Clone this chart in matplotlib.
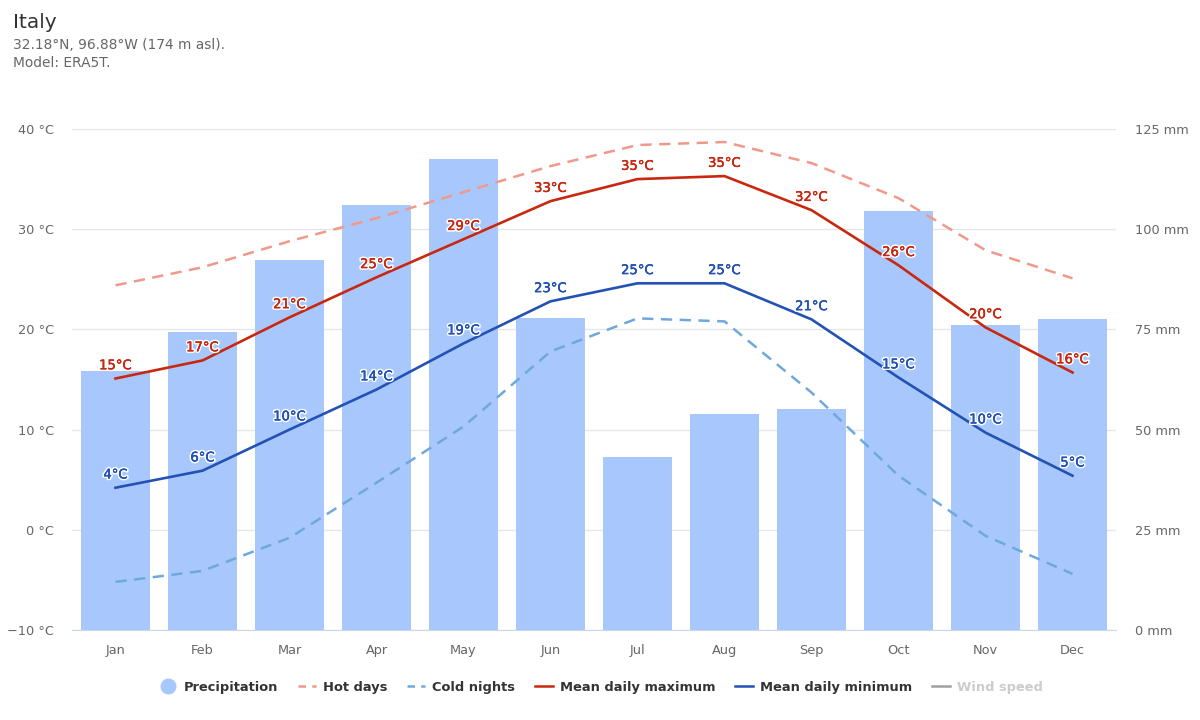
import matplotlib
matplotlib.use("Agg")
import matplotlib.pyplot as plt
from matplotlib.lines import Line2D
import matplotlib.patheffects as pe

months = ["Jan", "Feb", "Mar", "Apr", "May", "Jun", "Jul", "Aug", "Sep", "Oct", "Nov", "Dec"]
precip = [64.6, 74.4, 92.3, 106, 117.5, 77.8, 43.2, 53.9, 55.1, 104.5, 76.1, 77.6]
hot_days = [24.4, 26.2, 28.8, 31.1, 33.7, 36.3, 38.4, 38.7, 36.6, 33.1, 27.9, 25.1]
cold_nights = [-5.2, -4.1, -0.8, 4.7, 10.3, 17.8, 21.1, 20.8, 13.7, 5.4, -0.6, -4.4]
mean_max = [15.1, 16.9, 21.2, 25.2, 29.0, 32.8, 35.0, 35.3, 31.9, 26.4, 20.2, 15.7]
mean_min = [4.2, 5.9, 10.0, 14.0, 18.6, 22.8, 24.6, 24.6, 21.0, 15.2, 9.7, 5.4]
temp_ticks = [-10, 0, 10, 20, 30, 40]
rain_ticks = [0, 25, 50, 75, 100, 125]

BAR = "#a8c8fd"
RED = "#c8280f"
BLUE = "#2352b4"
PINK = "#f0998a"
LBLUE = "#6fa8dc"
TICK = "#666666"

plt.rcParams["font.family"] = "DejaVu Sans"
fig = plt.figure(figsize=(12, 7.2), dpi=100)
ax = fig.add_axes([72 / 1200, 1 - 630 / 720, 1044 / 1200, 501 / 720])
ax2 = ax.twinx()
x = list(range(12))

# bars + grid on the mm axis, lines on top of them
ax2.bar(x, precip, width=0.79, color=BAR, zorder=2)
ax2.set_ylim(0, 125)
ax2.set_yticks(rain_ticks)
ax2.set_yticklabels([f"{v} mm" for v in rain_ticks])
ax2.grid(axis="y", color="#e6e6e6", lw=1)
ax2.set_axisbelow(True)

ax.set_zorder(ax2.get_zorder() + 1)
ax.patch.set_visible(False)
ax.plot(x, hot_days, color=PINK, lw=1.8, dashes=(4.5, 3))
ax.plot(x, cold_nights, color=LBLUE, lw=1.8, dashes=(4.5, 3))
ax.plot(x, mean_max, color=RED, lw=1.9)
ax.plot(x, mean_min, color=BLUE, lw=1.9)
ax.set_xlim(-0.5, 11.5)
ax.set_ylim(-10, 40)
ax.set_yticks(temp_ticks)
ax.set_yticklabels([f"{v} °C".replace("-", "\u2212") for v in temp_ticks])
ax.set_xticks(x)
ax.set_xticklabels(months)

def halo(color):
    return [pe.withStroke(linewidth=2.5, foreground="white"), pe.Stroke(linewidth=0.25, foreground=color), pe.Normal()]

for i in x:
    ax.annotate(f"{round(mean_max[i])}°C", (i, mean_max[i]), xytext=(0, 4.5), textcoords="offset points",
                ha="center", va="bottom", color=RED, fontsize=9.5, path_effects=halo(RED))
    ax.annotate(f"{round(mean_min[i])}°C", (i, mean_min[i]), xytext=(0, 4.5), textcoords="offset points",
                ha="center", va="bottom", color=BLUE, fontsize=9.5, path_effects=halo(BLUE))

for a in (ax, ax2):
    for s in a.spines.values():
        s.set_visible(False)
    a.tick_params(length=0, labelsize=9.3, labelcolor=TICK)
ax.tick_params(axis="y", pad=13)
ax.tick_params(axis="x", pad=10)
ax2.tick_params(axis="y", pad=14)
ax.spines["bottom"].set_visible(True)
ax.spines["bottom"].set_color("#ccd6eb")

fig.text(13 / 1200, 1 - 22 / 720, "Italy", fontsize=14.5, color="#333333", va="center")
fig.text(13 / 1200, 1 - 45 / 720, "32.18°N, 96.88°W (174 m asl).", fontsize=9.9, color=TICK, va="center")
fig.text(13 / 1200, 1 - 63 / 720, "Model: ERA5T.", fontsize=9.9, color=TICK, va="center")

handles = [
    Line2D([], [], ls="none", marker="o", ms=10.5, color=BAR),
    Line2D([], [], color=PINK, lw=1.8, dashes=(3, 2.5)),
    Line2D([], [], color=LBLUE, lw=1.8, dashes=(3, 2.5)),
    Line2D([], [], color=RED, lw=1.8),
    Line2D([], [], color=BLUE, lw=1.8),
    Line2D([], [], color="#a0a0a0", lw=1.8),
]
labels = ["Precipitation", "Hot days", "Cold nights", "Mean daily maximum", "Mean daily minimum", "Wind speed"]
leg = fig.legend(handles, labels, loc="center", bbox_to_anchor=(601 / 1200, 1 - 687 / 720), ncol=6,
                 frameon=False, columnspacing=1.5, handlelength=1.4, handletextpad=0.53,
                 prop={"weight": "bold", "size": 9.4})
for t, c in zip(leg.get_texts(), ["#333333"] * 5 + ["#cccccc"]):
    t.set_color(c)

fig.savefig("out.png", dpi=100)
